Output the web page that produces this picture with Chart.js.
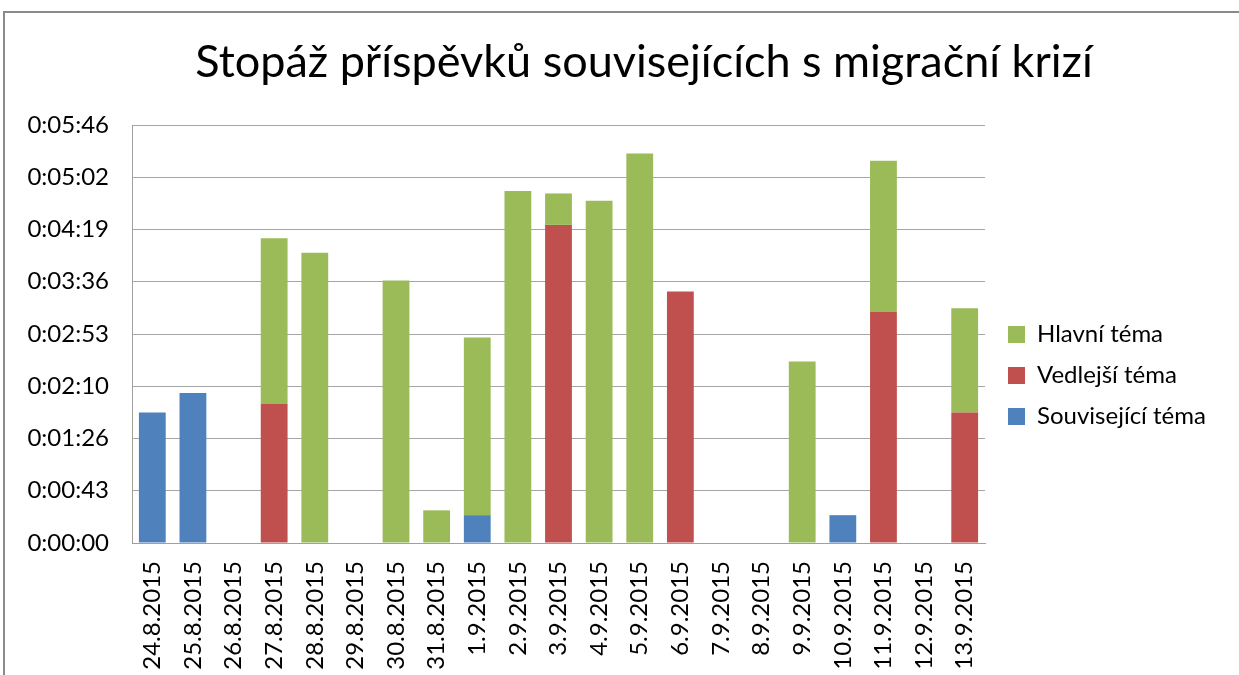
<!DOCTYPE html>
<html>
<head>
<meta charset="utf-8">
<script src="https://cdn.jsdelivr.net/npm/chart.js@4.4.1/dist/chart.umd.min.js"></script>
<style>
  html, body { margin: 0; padding: 0; background: #fff; overflow: hidden; }
  #wrap { position: relative; width: 1239px; height: 675px; }
  #frame { position: absolute; left: 3px; top: 11px; width: 1400px; height: 800px;
           border-top: 2px solid #8a8a8a; border-left: 2px solid #8a8a8a; pointer-events: none; }
  canvas { position: absolute; left: 0; top: 0; }
</style>
</head>
<body>
<div id="wrap">
  <canvas id="c" width="1239" height="675"></canvas>
  <div id="frame"></div>
</div>
<script>
// Categories (dates)
const categories = ["24.8.2015","25.8.2015","26.8.2015","27.8.2015","28.8.2015","29.8.2015","30.8.2015","31.8.2015",
  "1.9.2015","2.9.2015","3.9.2015","4.9.2015","5.9.2015","6.9.2015","7.9.2015","8.9.2015","9.9.2015",
  "10.9.2015","11.9.2015","12.9.2015","13.9.2015"];

// Series values in seconds
const souvisejiciTema = [108, 124, null, null, null, null, null, null, 23, null, null, null, null, null, null, null, null, 23, null, null, null];
const vedlejsiTema    = [null, null, null, 115, null, null, null, null, null, null, 263, null, null, 208, null, null, null, null, 191, null, 108];
const hlavniTema      = [null, null, null, 137, 240, null, 217, 27, 147, 291, 26, 283, 322, null, null, null, 150, null, 125, null, 86];

// Y tick labels (h:mm:ss)
const yTickLabels = ["0:00:00","0:00:43","0:01:26","0:02:10","0:02:53","0:03:36","0:04:19","0:05:02","0:05:46"];
const yStep = 43.2;
const yMax = 345.6;

const FONT = "Lato";

const layoutFix = {
  id: 'layoutFix',
  afterInit(chart) {
    const lg = chart.legend;
    if (lg) {
      const orig = lg.fit.bind(lg);
      lg.fit = function () { orig(); this.width = 254; };
    }
  },
  afterLayout(chart) {
    const lg = chart.legend;
    if (lg) {
      const dx = 6, dy = 38;
      lg.left += dx; lg.right += dx;
      lg.top += dy; lg.bottom += dy;
    }
    const tb = chart.titleBlock;
    if (tb) {
      const tx = 24.5;
      tb.left += tx; tb.right += tx;
    }
  }
};

new Chart(document.getElementById('c'), {
  type: 'bar',
  data: {
    labels: categories,
    datasets: [
      { label: 'Související téma', data: souvisejiciTema, backgroundColor: '#4F81BD' },
      { label: 'Vedlejší téma', data: vedlejsiTema, backgroundColor: '#C0504D' },
      { label: 'Hlavní téma', data: hlavniTema, backgroundColor: '#9BBB59' }
    ]
  },
  options: {
    responsive: false,
    animation: false,
    layout: { padding: { left: 0, right: 0, top: 0, bottom: 0 } },
    datasets: { bar: { categoryPercentage: 1.0, barPercentage: 0.66, borderWidth: 0 } },
    plugins: {
      title: {
        display: true,
        text: 'Stopáž příspěvků souvisejících s migrační krizí',
        color: '#000',
        font: { family: FONT, size: 45, weight: 'normal', lineHeight: 1.2 },
        padding: { top: 35, bottom: 36 }
      },
      legend: {
        position: 'right',
        reverse: true,
        labels: {
          color: '#000',
          font: { family: FONT, size: 24 },
          boxWidth: 17,
          boxHeight: 17,
          padding: 17
        }
      },
      tooltip: { enabled: false }
    },
    scales: {
      x: {
        stacked: true,
        grid: { display: false, drawTicks: false },
        border: { display: true, color: '#a0a0a0', width: 1 },
        ticks: {
          color: '#000',
          font: { family: FONT, size: 24 },
          minRotation: 90,
          maxRotation: 90,
          autoSkip: false,
          padding: 18
        },
        afterFit(scale) { scale.height = 132; }
      },
      y: {
        stacked: true,
        min: 0,
        max: yMax,
        grid: { color: '#a6a6a6', lineWidth: 1, drawTicks: false },
        border: { display: true, color: '#a0a0a0', width: 1 },
        ticks: {
          stepSize: yStep,
          color: '#000',
          font: { family: FONT, size: 24 },
          padding: 23,
          callback: (v, i) => yTickLabels[i]
        },
        afterFit(scale) { scale.width = 132; }
      }
    }
  },
  plugins: [layoutFix]
});
</script>
</body>
</html>
